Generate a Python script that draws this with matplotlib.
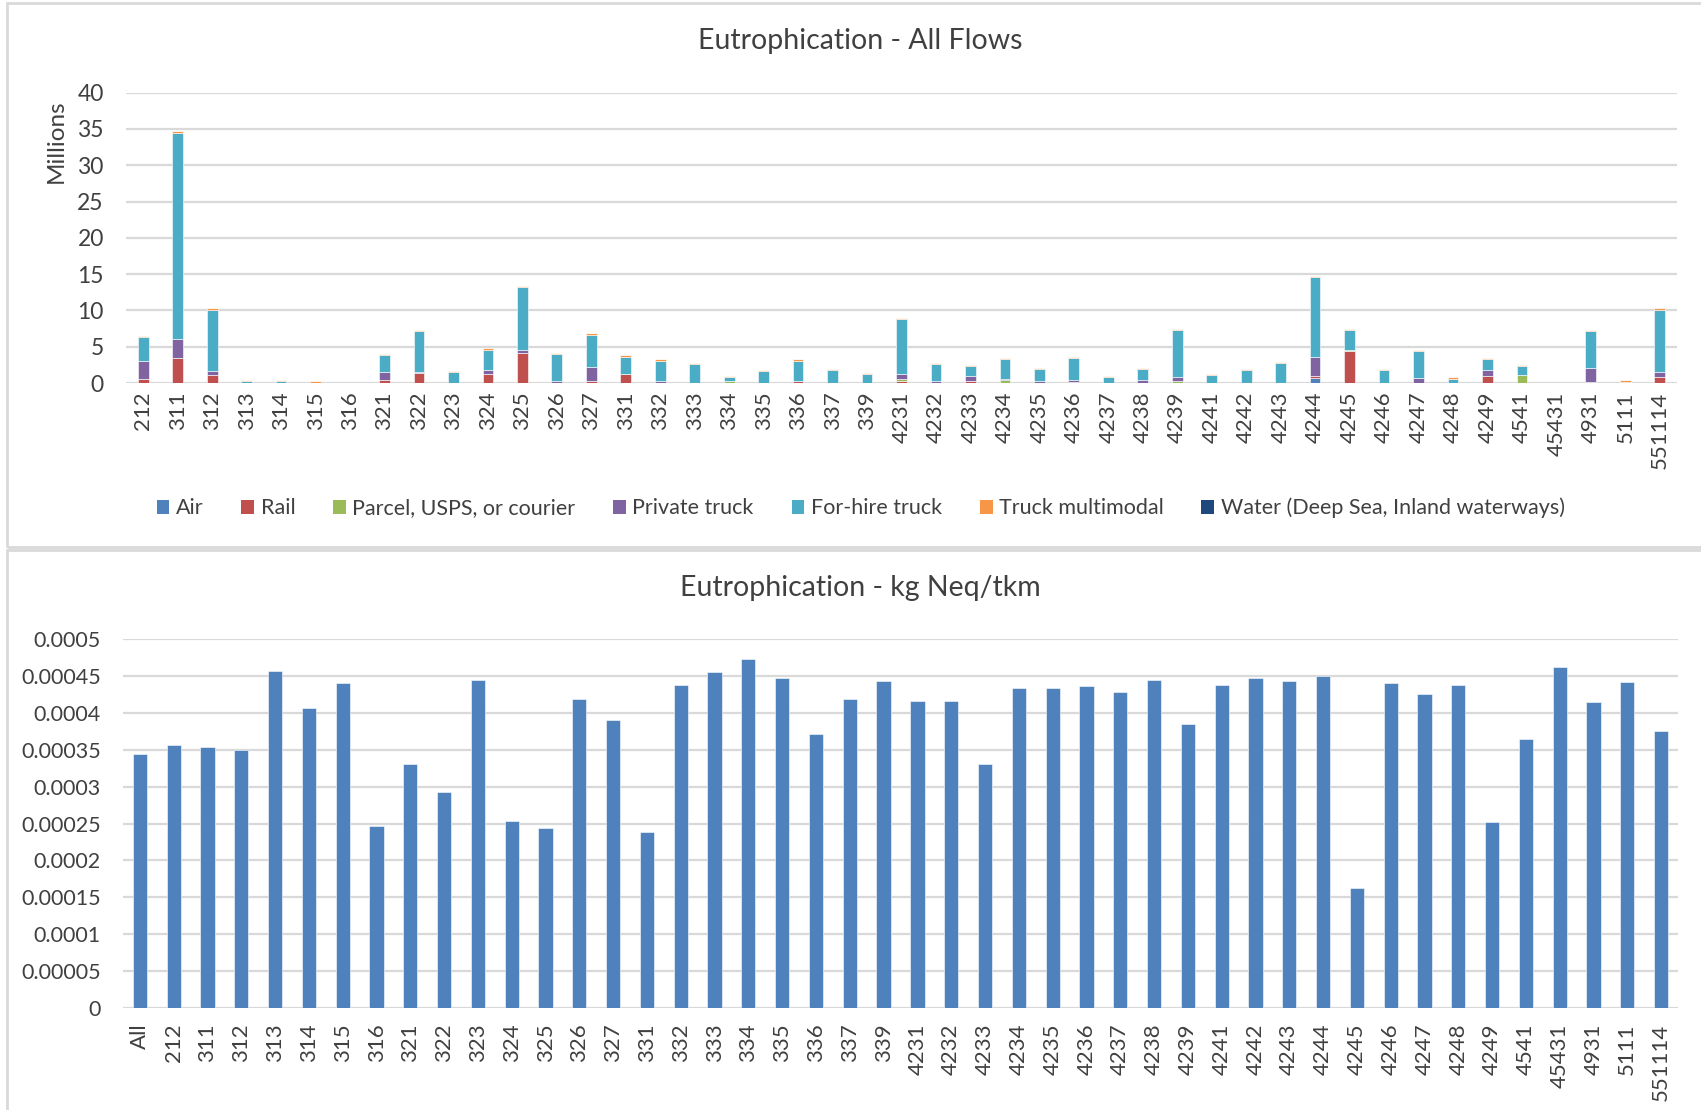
import numpy as np
import matplotlib

matplotlib.use("Agg")
import matplotlib.pyplot as plt
from matplotlib.patches import Rectangle, Patch

plt.rcParams["font.family"] = ["Lato", "DejaVu Sans"]

# ---- data: top chart (millions, one value per segment) ----
flow_cats = ["212", "311", "312", "313", "314", "315", "316", "321", "322", "323", "324",
             "325", "326", "327", "331", "332", "333", "334", "335", "336", "337", "339",
             "4231", "4232", "4233", "4234", "4235", "4236", "4237", "4238", "4239",
             "4241", "4242", "4243", "4244", "4245", "4246", "4247", "4248", "4249",
             "4541", "45431", "4931", "5111", "551114"]
air = [0, 0, 0, 0, 0, 0, 0, 0, 0, 0, 0, 0, 0, 0, 0, 0, 0, 0, 0, 0, 0, 0,
       0, 0, 0, 0, 0, 0, 0, 0, 0, 0, 0, 0, 0.75, 0, 0, 0, 0, 0, 0, 0, 0, 0, 0]
rail = [0.6, 3.5, 1.14, 0, 0, 0, 0, 0.45, 1.4, 0, 1.3, 4.1, 0, 0.25, 1.25, 0, 0, 0, 0, 0.3, 0, 0,
        0.28, 0, 0.25, 0, 0, 0, 0, 0, 0, 0, 0, 0, 0.25, 4.45, 0, 0, 0, 0.95, 0, 0, 0, 0, 0.8]
parcel = [0, 0, 0, 0, 0, 0, 0, 0, 0, 0, 0, 0, 0, 0, 0, 0, 0, 0.28, 0, 0, 0, 0,
          0.27, 0, 0, 0.4, 0, 0.2, 0, 0, 0.25, 0, 0, 0, 0, 0.15, 0, 0, 0, 0, 1.15, 0, 0.2, 0, 0]
private = [2.45, 2.6, 0.46, 0, 0, 0, 0, 1.0, 0.1, 0, 0.5, 0.5, 0.25, 2.0, 0.05, 0.3, 0, 0, 0, 0, 0, 0,
           0.7, 0.28, 0.7, 0.15, 0.28, 0.2, 0, 0.4, 0.55, 0, 0, 0, 2.6, 0, 0, 0.75, 0, 0.85,
           0, 0, 1.9, 0, 0.65]
forhire = [3.25, 28.35, 8.5, 0.3, 0.3, 0.05, 0, 2.35, 5.6, 1.5, 2.8, 8.6, 3.7, 4.4, 2.3, 2.8, 2.6,
           0.52, 1.6, 2.8, 1.8, 1.3, 7.55, 2.32, 1.35, 2.75, 1.67, 3.05, 0.85, 1.55, 6.5, 1.15,
           1.8, 2.75, 11.0, 2.7, 1.8, 3.65, 0.6, 1.45, 1.15, 0, 5.05, 0.2, 8.65]
multimodal = [0.18, 0.25, 0.17, 0.15, 0.15, 0.2, 0, 0.2, 0.2, 0.18, 0.25, 0.2, 0.15, 0.2, 0.2, 0.2,
              0.15, 0.15, 0.2, 0.2, 0.15, 0.1, 0.2, 0.15, 0.2, 0.15, 0.15, 0.15, 0.1, 0.15, 0.2,
              0.15, 0.15, 0.15, 0.2, 0.2, 0.15, 0.2, 0.2, 0.2, 0.2, 0, 0.2, 0.17, 0.2]
water = [0] * len(flow_cats)

series_names = ["Air", "Rail", "Parcel, USPS, or courier", "Private truck", "For-hire truck",
                "Truck multimodal", "Water (Deep Sea, Inland waterways)"]
series_vals = [air, rail, parcel, private, forhire, multimodal, water]
series_colors = ["#4F81BD", "#C0504D", "#9BBB59", "#8064A2", "#4BACC6", "#F79646", "#1F497D"]

# ---- data: bottom chart (kg Neq/tkm) ----
int_cats = ["All"] + flow_cats
intensity = [0.000344, 0.000356, 0.000354, 0.000349, 0.000456, 0.000406, 0.000440, 0.000247,
             0.000331, 0.000293, 0.000444, 0.000253, 0.000244, 0.000419, 0.000390, 0.000238,
             0.000437, 0.000455, 0.000473, 0.000447, 0.000371, 0.000419, 0.000443, 0.000416,
             0.000416, 0.000331, 0.000433, 0.000434, 0.000436, 0.000428, 0.000444, 0.000385,
             0.000438, 0.000447, 0.000443, 0.000450, 0.000162, 0.000441, 0.000425, 0.000437,
             0.000252, 0.000365, 0.000462, 0.000415, 0.000442, 0.000376]
int_ticks = ["0", "0.00005", "0.0001", "0.00015", "0.0002", "0.00025", "0.0003", "0.00035",
             "0.0004", "0.00045", "0.0005"]

TXT = "#404040"
GRID = "#D9D9D9"

fig = plt.figure(figsize=(17.01, 11.10), dpi=100)

# chart frames like the Excel boxes
fig.patches.append(Rectangle((7 / 1701, 1 - 547 / 1110), 1.0, 544 / 1110, transform=fig.transFigure,
                             fill=False, ec=GRID, lw=2))
fig.patches.append(Rectangle((7 / 1701, -0.01), 1.0, 1 - 550 / 1110 + 0.01, transform=fig.transFigure,
                             fill=False, ec=GRID, lw=2))

# ---- top: stacked flows ----
ax1 = fig.add_axes([126 / 1701, 1 - 383 / 1110, (1677 - 126) / 1701, (383 - 92.7) / 1110])
x = np.arange(len(flow_cats))
bottom = np.zeros(len(flow_cats))
for name, vals, col in zip(series_names, series_vals, series_colors):
    v = np.array(vals, dtype=float)
    ax1.bar(x, v, 0.31, bottom=bottom, color=col, edgecolor="white", linewidth=0.4, zorder=3)
    bottom += v
ax1.set_ylim(0, 40)
ax1.set_xlim(-0.5, len(flow_cats) - 0.5)
ax1.set_yticks(range(0, 41, 5))
ax1.set_xticks(x)
ax1.set_xticklabels(flow_cats, rotation=90, va="top")
ax1.tick_params(axis="x", length=0, pad=6, labelsize=16, labelcolor=TXT)
ax1.tick_params(axis="y", length=0, pad=16, labelsize=16.5, labelcolor=TXT)
ax1.grid(axis="y", color=GRID, lw=1.6, zorder=0)
for s in ax1.spines.values():
    s.set_visible(False)
fig.text(56 / 1701, 1 - 141 / 1110, "Millions", rotation=90, ha="center", va="center",
         fontsize=17.5, color=TXT)
fig.text(0.506, 1 - 41 / 1110, "Eutrophication - All Flows", ha="center", va="center",
         fontsize=20.5, color=TXT)
handles = [Patch(facecolor=c, label=n) for n, c in zip(series_names, series_colors)]
fig.legend(handles=handles, loc="center", bbox_to_anchor=(0.506, 1 - 508 / 1110), ncol=7,
           frameon=False, fontsize=15.5, handlelength=0.6, handleheight=0.6, handletextpad=0.3,
           columnspacing=1.75, labelcolor=TXT)

# ---- bottom: intensity ----
ax2 = fig.add_axes([123 / 1701, 1 - 1008 / 1110, (1678 - 123) / 1701, (1008 - 639) / 1110])
x2 = np.arange(len(int_cats))
ax2.bar(x2, intensity, 0.42, color="#4F81BD", edgecolor="white", linewidth=0.4, zorder=3)
ax2.set_ylim(0, 0.0005)
ax2.set_xlim(-0.5, len(int_cats) - 0.5)
ax2.set_yticks(np.linspace(0, 0.0005, len(int_ticks)))
ax2.set_yticklabels(int_ticks)
ax2.set_xticks(x2)
ax2.set_xticklabels(int_cats, rotation=90, va="top")
ax2.tick_params(axis="x", length=0, pad=11, labelsize=16, labelcolor=TXT)
ax2.tick_params(axis="y", length=0, pad=16, labelsize=15.5, labelcolor=TXT)
ax2.grid(axis="y", color=GRID, lw=1.6, zorder=0)
for s in ax2.spines.values():
    s.set_visible(False)
fig.text(0.506, 1 - 588 / 1110, "Eutrophication - kg Neq/tkm", ha="center", va="center",
         fontsize=20.5, color=TXT)

fig.savefig("out.png", dpi=100)
